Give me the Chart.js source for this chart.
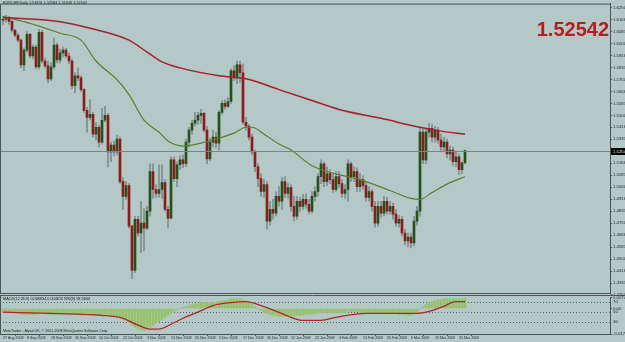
<!DOCTYPE html>
<html>
<head>
<meta charset="utf-8">
<title>EURCHF Daily</title>
<script src="https://cdn.jsdelivr.net/npm/chart.js@4.4.1/dist/chart.umd.min.js"></script>
<style>
  html, body { margin: 0; padding: 0; background: #b3c8c7; }
  #wrap { position: relative; width: 625px; height: 342px; overflow: hidden; background: #b3c8c7; font-family: "Liberation Sans", Arial, sans-serif; }
  canvas { position: absolute; left: 0; }
  #main { top: 0; }
  #sub { top: 294px; }
  .t { position: absolute; white-space: nowrap; line-height: 1; color: #1a1a1a; }
  #head { left: 3px; top: 2px; font-size: 3.8px; }
  #big { right: 16px; top: 18.5px; font-weight: bold; font-size: 20px; color: #b41e1e; }
  #macdHead { left: 3px; top: 297.5px; font-size: 3.8px; }
  #foot { left: 3px; top: 330px; font-size: 3.6px; }
</style>
</head>
<body>
<div id="wrap">
  <canvas id="main" width="625" height="297"></canvas>
  <canvas id="sub" width="625" height="48"></canvas>
  <div class="t" id="head">EURCHF,Daily  1.51691 1.52584 1.51626 1.52542</div>
  <div class="t" id="big">1.52542</div>
  <div class="t" id="macdHead">MACD(12,26,9) 0.006834 0.004615  RSI(9) 58.9604</div>
  <div class="t" id="foot">MetaTrader - Alpari UK, © 2001-2008 MetaQuotes Software Corp.</div>
</div>
<script>
// date labels, one every 8 bars
const dates = ["27 Aug 2008", "8 Sep 2008", "18 Sep 2008", "30 Sep 2008", "10 Oct 2008", "22 Oct 2008",
  "3 Nov 2008", "13 Nov 2008", "25 Nov 2008", "5 Dec 2008", "17 Dec 2008", "30 Dec 2008", "12 Jan 2009",
  "22 Jan 2009", "3 Feb 2009", "13 Feb 2009", "25 Feb 2009", "9 Mar 2009", "19 Mar 2009", "31 Mar 2009"];

const opens = [
  1.6161, 1.6168, 1.6174, 1.6154, 1.6092, 1.6057, 1.6023, 1.5851, 1.5954, 1.6064,
  1.5913, 1.5975, 1.5837, 1.6078, 1.5878, 1.5844, 1.5754, 1.5837, 1.5988, 1.5885,
  1.5934, 1.5954, 1.5913, 1.5878, 1.5706, 1.5775, 1.5761, 1.5679, 1.5534, 1.5486,
  1.5507, 1.5369, 1.5417, 1.5314, 1.5466, 1.5500, 1.5246, 1.5293, 1.5246, 1.5335,
  1.5039, 1.4936, 1.5011, 1.4729, 1.4420, 1.4777, 1.4681, 1.4750, 1.4715, 1.4833,
  1.5108, 1.4984, 1.4956, 1.4984, 1.5032, 1.4846, 1.4784, 1.5190, 1.5060, 1.5156,
  1.5190, 1.5163, 1.5314, 1.5397, 1.5445, 1.5466, 1.5500, 1.5514, 1.5397, 1.5197,
  1.5314, 1.5348, 1.5307, 1.5521, 1.5583, 1.5562, 1.5596, 1.5810, 1.5761, 1.5851,
  1.5796, 1.5452, 1.5424, 1.5348, 1.5246, 1.5142, 1.5060, 1.4970, 1.5018, 1.4764,
  1.4846, 1.4819, 1.4936, 1.4902, 1.5039, 1.4956, 1.4998, 1.4867, 1.4798, 1.4902,
  1.4867, 1.4915, 1.4881, 1.4833, 1.4936, 1.4970, 1.5073, 1.5163, 1.5039, 1.5094,
  1.5053, 1.4984, 1.5073, 1.5025, 1.4956, 1.4984, 1.5163, 1.5073, 1.5108, 1.5004,
  1.5053, 1.5011, 1.4929, 1.4970, 1.4867, 1.4750, 1.4867, 1.4819, 1.4902, 1.4833,
  1.4867, 1.4812, 1.4750, 1.4777, 1.4681, 1.4626, 1.4653, 1.4612, 1.4764, 1.4833,
  1.5383, 1.5190, 1.5383, 1.5410, 1.5348, 1.5397, 1.5328, 1.5280, 1.5314, 1.5232,
  1.5259, 1.5177, 1.5211, 1.5122, 1.5169];
const highs = [
  1.6188, 1.6195, 1.6188, 1.6161, 1.6099, 1.6071, 1.6030, 1.5968, 1.6085, 1.6071,
  1.5988, 1.5988, 1.6099, 1.6092, 1.5899, 1.5878, 1.5865, 1.6037, 1.6002, 1.5961,
  1.5975, 1.5968, 1.5934, 1.5892, 1.5796, 1.5830, 1.5775, 1.5686, 1.5555, 1.5610,
  1.5521, 1.5452, 1.5431, 1.5548, 1.5562, 1.5514, 1.5314, 1.5321, 1.5362, 1.5348,
  1.5066, 1.5039, 1.5025, 1.4736, 1.4798, 1.4798, 1.4902, 1.4853, 1.4867, 1.5163,
  1.5163, 1.5018, 1.5156, 1.5156, 1.5053, 1.4867, 1.5211, 1.5211, 1.5177, 1.5218,
  1.5225, 1.5335, 1.5417, 1.5466, 1.5521, 1.5521, 1.5541, 1.5521, 1.5424, 1.5342,
  1.5397, 1.5383, 1.5534, 1.5603, 1.5610, 1.5624, 1.5823, 1.5844, 1.5878, 1.5878,
  1.5858, 1.5486, 1.5438, 1.5369, 1.5259, 1.5163, 1.5094, 1.5053, 1.5039, 1.4902,
  1.4915, 1.4970, 1.5004, 1.5066, 1.5073, 1.5025, 1.5018, 1.4936, 1.4936, 1.4929,
  1.4949, 1.4956, 1.4915, 1.4970, 1.5004, 1.5094, 1.5190, 1.5177, 1.5142, 1.5122,
  1.5094, 1.5108, 1.5108, 1.5053, 1.5018, 1.5190, 1.5177, 1.5142, 1.5135, 1.5094,
  1.5080, 1.5039, 1.5004, 1.4984, 1.4902, 1.4902, 1.4902, 1.4936, 1.4929, 1.4902,
  1.4888, 1.4846, 1.4805, 1.4798, 1.4708, 1.4681, 1.4681, 1.4798, 1.4867, 1.5417,
  1.5417, 1.5410, 1.5445, 1.5438, 1.5424, 1.5417, 1.5369, 1.5348, 1.5335, 1.5286,
  1.5280, 1.5246, 1.5232, 1.5177, 1.5258];
const lows = [
  1.6133, 1.6147, 1.6133, 1.6078, 1.6043, 1.6009, 1.5830, 1.5810, 1.5940, 1.5899,
  1.5892, 1.5823, 1.5823, 1.5865, 1.5830, 1.5727, 1.5741, 1.5823, 1.5865, 1.5865,
  1.5906, 1.5899, 1.5858, 1.5686, 1.5658, 1.5741, 1.5665, 1.5521, 1.5383, 1.5466,
  1.5348, 1.5328, 1.5280, 1.5300, 1.5452, 1.5142, 1.5177, 1.5218, 1.5225, 1.5025,
  1.4846, 1.4915, 1.4715, 1.4364, 1.4406, 1.4660, 1.4544, 1.4558, 1.4702, 1.4798,
  1.4922, 1.4929, 1.4929, 1.4922, 1.4833, 1.4715, 1.4777, 1.5039, 1.5004, 1.5122,
  1.5135, 1.5142, 1.5280, 1.5369, 1.5424, 1.5438, 1.5445, 1.5383, 1.5163, 1.5184,
  1.5280, 1.5273, 1.5259, 1.5507, 1.5541, 1.5555, 1.5583, 1.5741, 1.5720, 1.5727,
  1.5438, 1.5397, 1.5328, 1.5225, 1.5108, 1.5004, 1.4936, 1.4929, 1.4708, 1.4736,
  1.4777, 1.4798, 1.4867, 1.4846, 1.4929, 1.4922, 1.4833, 1.4764, 1.4777, 1.4833,
  1.4846, 1.4853, 1.4812, 1.4819, 1.4902, 1.4936, 1.5025, 1.5004, 1.5011, 1.5025,
  1.4963, 1.4970, 1.4998, 1.4929, 1.4922, 1.4902, 1.5039, 1.5039, 1.4970, 1.4970,
  1.4984, 1.4902, 1.4902, 1.4833, 1.4722, 1.4729, 1.4791, 1.4798, 1.4812, 1.4812,
  1.4777, 1.4729, 1.4722, 1.4660, 1.4598, 1.4584, 1.4578, 1.4591, 1.4736, 1.4798,
  1.5163, 1.5163, 1.5348, 1.5314, 1.5314, 1.5307, 1.5246, 1.5246, 1.5204, 1.5190,
  1.5149, 1.5142, 1.5087, 1.5094, 1.5163];
const closes = [
  1.6168, 1.6174, 1.6154, 1.6092, 1.6057, 1.6023, 1.5851, 1.5954, 1.6064, 1.5913,
  1.5975, 1.5837, 1.6078, 1.5878, 1.5844, 1.5754, 1.5837, 1.5988, 1.5885, 1.5934,
  1.5954, 1.5913, 1.5878, 1.5706, 1.5775, 1.5761, 1.5679, 1.5534, 1.5486, 1.5507,
  1.5369, 1.5417, 1.5314, 1.5466, 1.5500, 1.5246, 1.5293, 1.5246, 1.5335, 1.5039,
  1.4936, 1.5011, 1.4729, 1.4420, 1.4777, 1.4681, 1.4750, 1.4715, 1.4833, 1.5108,
  1.4984, 1.4956, 1.4984, 1.5032, 1.4846, 1.4784, 1.5190, 1.5060, 1.5156, 1.5190,
  1.5163, 1.5314, 1.5397, 1.5445, 1.5466, 1.5500, 1.5514, 1.5397, 1.5197, 1.5314,
  1.5348, 1.5307, 1.5521, 1.5583, 1.5562, 1.5596, 1.5810, 1.5761, 1.5851, 1.5796,
  1.5452, 1.5424, 1.5348, 1.5246, 1.5142, 1.5060, 1.4970, 1.5018, 1.4764, 1.4846,
  1.4819, 1.4936, 1.4902, 1.5039, 1.4956, 1.4998, 1.4867, 1.4798, 1.4902, 1.4867,
  1.4915, 1.4881, 1.4833, 1.4936, 1.4970, 1.5073, 1.5163, 1.5039, 1.5094, 1.5053,
  1.4984, 1.5073, 1.5025, 1.4956, 1.4984, 1.5163, 1.5073, 1.5108, 1.5004, 1.5053,
  1.5011, 1.4929, 1.4970, 1.4867, 1.4750, 1.4867, 1.4819, 1.4902, 1.4833, 1.4867,
  1.4812, 1.4750, 1.4777, 1.4681, 1.4626, 1.4653, 1.4612, 1.4764, 1.4833, 1.5383,
  1.5190, 1.5383, 1.5410, 1.5348, 1.5397, 1.5328, 1.5280, 1.5314, 1.5232, 1.5259,
  1.5177, 1.5211, 1.5122, 1.5169, 1.52542];

// moving averages, read at a few bars
const slowMaIdx = [0, 6, 18, 29, 42, 48, 53, 59, 72, 81, 92, 103, 112, 126, 139, 146, 154];
const slowMa = [1.6181, 1.6174, 1.6154, 1.6106, 1.6023, 1.5940, 1.5872, 1.5830, 1.5775, 1.5754,
  1.5679, 1.5603, 1.5541, 1.5479, 1.5417, 1.5390, 1.5369];
const fastMaIdx = [0, 9, 19, 26, 31, 38, 42, 47, 52, 55, 60, 66, 71, 77, 81, 83, 87, 92, 96, 103,
  112, 119, 129, 136, 139, 143, 149, 154];
const fastMa = [1.6188, 1.6140, 1.6071, 1.6023, 1.5878, 1.5748, 1.5644, 1.5466, 1.5383, 1.5321,
  1.5286, 1.5307, 1.5335, 1.5376, 1.5417, 1.5417, 1.5369, 1.5300, 1.5259, 1.5149,
  1.5087, 1.5053, 1.4977, 1.4922, 1.4915, 1.4963, 1.5032, 1.5073];

const macdHist = [
  -0.0020, -0.0020, -0.0027, -0.0027, -0.0027, -0.0034, -0.0034, -0.0040, -0.0040, -0.0040,
  -0.0040, -0.0040, -0.0034, -0.0034, -0.0034, -0.0040, -0.0040, -0.0040, -0.0034, -0.0034,
  -0.0034, -0.0034, -0.0034, -0.0040, -0.0040, -0.0040, -0.0047, -0.0047, -0.0047, -0.0047,
  -0.0047, -0.0047, -0.0047, -0.0040, -0.0040, -0.0040, -0.0047, -0.0047, -0.0054, -0.0061,
  -0.0074, -0.0081, -0.0094, -0.0114, -0.0128, -0.0141, -0.0148, -0.0148, -0.0141, -0.0128,
  -0.0114, -0.0101, -0.0087, -0.0074, -0.0061, -0.0047, -0.0034, -0.0020, -0.0007, 0.0000,
  0.0007, 0.0013, 0.0020, 0.0027, 0.0034, 0.0034, 0.0040, 0.0040, 0.0040, 0.0040,
  0.0040, 0.0040, 0.0047, 0.0054, 0.0054, 0.0061, 0.0067, 0.0067, 0.0067, 0.0067,
  0.0061, 0.0054, 0.0040, 0.0027, 0.0013, 0.0000, -0.0013, -0.0027, -0.0034, -0.0040,
  -0.0047, -0.0047, -0.0054, -0.0054, -0.0054, -0.0054, -0.0054, -0.0054, -0.0047, -0.0047,
  -0.0047, -0.0040, -0.0040, -0.0040, -0.0034, -0.0034, -0.0027, -0.0027, -0.0027, -0.0027,
  -0.0027, -0.0027, -0.0027, -0.0027, -0.0027, -0.0020, -0.0020, -0.0020, -0.0020, -0.0027,
  -0.0027, -0.0027, -0.0027, -0.0027, -0.0034, -0.0034, -0.0034, -0.0034, -0.0034, -0.0034,
  -0.0034, -0.0034, -0.0040, -0.0040, -0.0040, -0.0047, -0.0047, -0.0040, -0.0034, -0.0007,
  0.0013, 0.0027, 0.0040, 0.0047, 0.0054, 0.0061, 0.0061, 0.0067, 0.0067, 0.0067,
  0.0067, 0.0067, 0.0067, 0.0067, 0.006834];
const signalIdx = [0, 16, 33, 40, 45, 49, 52, 56, 60, 64, 70, 76, 81, 86, 92, 96, 100, 106, 111, 121,
  138, 146, 151, 154];
const signal = [-0.0025, -0.0034, -0.0047, -0.0067, -0.0114, -0.0141, -0.0141, -0.0108, -0.0067, -0.0034,
  0.0020, 0.0040, 0.0047, 0.0020, -0.0027, -0.0061, -0.0081, -0.0081, -0.0061, -0.0034,
  -0.0034, 0.0007, 0.0047, 0.0046];
const rsiIdx = [0, 2, 6, 11, 13, 17, 19, 21, 25, 28, 31, 32, 33, 36, 39, 41, 42, 43, 46, 50,
  53, 59, 62, 66, 68, 72, 75, 77, 79, 81, 86, 88, 90, 92, 95, 98, 100, 101, 103, 106,
  108, 111, 116, 117, 121, 122, 125, 128, 131, 135, 136, 137, 139, 143, 146, 148, 150, 152, 154];
const rsi = [46, 36, 34, 50, 40, 50, 46, 48, 40, 36, 34, 26, 40, 36, 34, 34, 26, 40, 36, 48,
  54, 54, 54, 60, 54, 62, 60, 66, 62, 46, 40, 34, 36, 46, 44, 36, 40, 36, 54, 50,
  50, 46, 56, 46, 46, 36, 46, 48, 42, 36, 30, 46, 70, 72, 66, 54, 54, 44, 58.96];

const priceTicks = [1.625, 1.61667, 1.60833, 1.6, 1.59167, 1.58333, 1.575, 1.56667, 1.55833, 1.55,
  1.54167, 1.53333, 1.525, 1.51667, 1.50833, 1.5, 1.49167, 1.48333, 1.475, 1.46667,
  1.45833, 1.45, 1.44167, 1.43333, 1.425];
const macdTicks = [0.00745, 0, -0.01745];
const rsiLevels = [70, 50, 30];

const FRAME = '#4b5555', TXT = '#1e2222';
const bullColor = '#24501c', bearColor = '#8e1a1a', wickColor = '#7f8d8d';
const xMin = -1, xMax = 202.3333;   // 3 px per bar over the 610 px plot
Chart.defaults.font.family = '"Liberation Sans", Arial, sans-serif';

const pts = (idx, vals) => idx.map((x, k) => ({x: x, y: vals[k]}));
const candleColors = opens.map((o, i) => closes[i] >= o ? bullColor : bearColor);

const mainDecor = {
  id: 'mainDecor',
  afterDraw(chart) {
    const {ctx, chartArea: a, scales: {y}} = chart;
    const last = closes[closes.length - 1];
    const py = Math.round(y.getPixelForValue(last)) + 0.5;
    ctx.save();
    ctx.lineWidth = 1;
    ctx.strokeStyle = '#768585';
    ctx.beginPath(); ctx.moveTo(a.left, py); ctx.lineTo(a.right, py); ctx.stroke();
    ctx.fillStyle = '#000';
    ctx.fillRect(a.right, py - 3.5, 15, 7);
    ctx.fillStyle = '#e8e8e8';
    ctx.font = '4.3px "Liberation Sans", Arial, sans-serif';
    ctx.textBaseline = 'middle';
    ctx.fillText(last.toFixed(5), a.right + 3, py);
    ctx.strokeStyle = FRAME;
    ctx.strokeRect(a.left + 0.5, a.top + 0.5, a.right - a.left, a.bottom - a.top);
    ctx.restore();
  }
};

new Chart(document.getElementById('main'), {
  type: 'bar',
  data: {
    datasets: [
      { type: 'line', data: pts(slowMaIdx, slowMa), borderColor: '#a5212b', borderWidth: 1.5,
        pointRadius: 0, cubicInterpolationMode: 'monotone', order: 1 },
      { type: 'line', data: pts(fastMaIdx, fastMa), borderColor: '#55802c', borderWidth: 1.2,
        pointRadius: 0, cubicInterpolationMode: 'monotone', order: 1 },
      { data: opens.map((o, i) => ({x: i, y: [o, closes[i]]})), backgroundColor: candleColors,
        barThickness: 2, minBarLength: 1, grouped: false, order: 2 },
      { data: lows.map((l, i) => ({x: i, y: [l, highs[i]]})), backgroundColor: wickColor,
        barThickness: 1, grouped: false, order: 3 }
    ]
  },
  options: {
    responsive: false, animation: false, events: [],
    layout: { padding: { left: 0, right: 0, top: 0, bottom: 4 } },
    plugins: { legend: { display: false }, tooltip: { enabled: false } },
    scales: {
      x: { type: 'linear', min: xMin, max: xMax, offset: false, display: false },
      y: {
        position: 'right', min: 1.426373, max: 1.627749,
        afterFit: s => { s.width = 15; },
        afterBuildTicks: s => { s.ticks = priceTicks.map(v => ({value: v})); },
        ticks: { callback: v => v.toFixed(5), font: { size: 4.3 }, color: TXT, padding: 1, autoSkip: false },
        grid: { drawOnChartArea: false, tickLength: 2, color: FRAME },
        border: { display: true, color: FRAME }
      }
    }
  },
  plugins: [mainDecor]
});

const subDecor = {
  id: 'subDecor',
  beforeDatasetsDraw(chart) {
    const {ctx, chartArea: a, scales: {r}} = chart;
    ctx.save();
    ctx.strokeStyle = '#566464';
    ctx.lineWidth = 1;
    ctx.setLineDash([1, 2]);
    rsiLevels.forEach(v => {
      const py = Math.round(r.getPixelForValue(v)) + 0.5;
      ctx.beginPath(); ctx.moveTo(a.left, py); ctx.lineTo(a.right, py); ctx.stroke();
    });
    ctx.restore();
  },
  afterDraw(chart) {
    const {ctx, chartArea: a, scales: {r}} = chart;
    ctx.save();
    ctx.fillStyle = TXT;
    ctx.font = '4.3px "Liberation Sans", Arial, sans-serif';
    ctx.textBaseline = 'middle';
    rsiLevels.forEach(v => ctx.fillText(String(v), a.right + 3, r.getPixelForValue(v)));
    ctx.strokeStyle = FRAME;
    ctx.lineWidth = 1;
    ctx.beginPath();
    ctx.moveTo(0, 1.5); ctx.lineTo(625, 1.5);
    ctx.moveTo(0.5, 1.5); ctx.lineTo(0.5, a.bottom);
    ctx.stroke();
    ctx.restore();
  }
};

new Chart(document.getElementById('sub'), {
  type: 'bar',
  data: {
    datasets: [
      { type: 'line', data: pts(rsiIdx, rsi), yAxisID: 'r', borderColor: '#1c2a86', borderWidth: 1,
        pointRadius: 0, tension: 0, order: 1 },
      { type: 'line', data: pts(signalIdx, signal), yAxisID: 'y', borderColor: '#b0242a', borderWidth: 1.3,
        pointRadius: 0, cubicInterpolationMode: 'monotone', order: 1 },
      { data: macdHist.map((v, i) => ({x: i, y: v})), yAxisID: 'y', backgroundColor: '#98c26a',
        barThickness: 2, grouped: false, order: 2 }
    ]
  },
  options: {
    responsive: false, animation: false, events: [],
    layout: { padding: { left: 0, right: 0, top: 3, bottom: 0 } },
    plugins: { legend: { display: false }, tooltip: { enabled: false } },
    scales: {
      x: {
        type: 'linear', min: xMin, max: xMax, offset: false, position: 'bottom',
        afterFit: s => { s.height = 8; },
        afterBuildTicks: s => { s.ticks = dates.map((d, k) => ({value: k * 8})); },
        ticks: { callback: (v, i) => dates[i], align: 'start', font: { size: 3.6 }, color: TXT,
          padding: 0, maxRotation: 0, autoSkip: false },
        grid: { drawOnChartArea: false, tickLength: 2, color: FRAME },
        border: { display: true, color: FRAME }
      },
      y: {
        position: 'right', min: -0.01745, max: 0.00745,
        afterFit: s => { s.width = 15; },
        afterBuildTicks: s => { s.ticks = macdTicks.map(v => ({value: v})); },
        ticks: { callback: v => v === 0 ? '0.00' : v.toFixed(5), font: { size: 4.3 }, color: TXT,
          padding: 1, autoSkip: false },
        grid: { drawOnChartArea: false, tickLength: 2, color: FRAME },
        border: { display: true, color: FRAME }
      },
      r: { display: false, min: 12, max: 86 }
    }
  },
  plugins: [subDecor]
});
</script>
</body>
</html>
